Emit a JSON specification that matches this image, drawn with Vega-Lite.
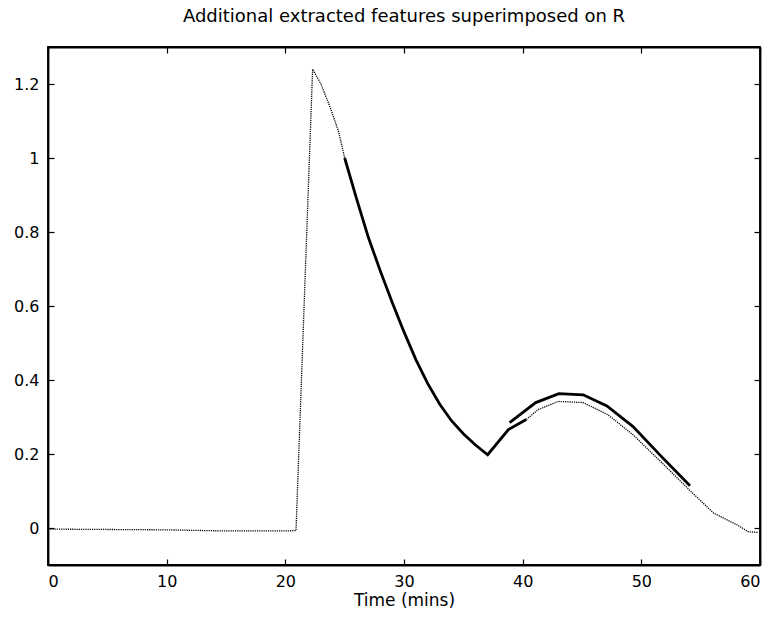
{
  "$schema": "https://vega.github.io/schema/vega-lite/v6.json",
  "autosize": "none",
  "padding": {"left": 48, "top": 47, "right": 10, "bottom": 52},
  "width": 712,
  "height": 518,
  "background": "white",
  "title": {"text": "Additional extracted features superimposed on R", "font": "DejaVu Sans", "fontSize": 18, "fontWeight": "normal", "color": "black", "offset": 20},
  "config": {
    "view": {"stroke": "black", "strokeWidth": 1.8},
    "axis": {"domainColor": "black", "tickColor": "black", "labelColor": "black", "titleColor": "black", "labelFont": "DejaVu Sans", "titleFont": "DejaVu Sans", "labelFontSize": 16, "titleFontSize": 17, "titleFontWeight": "normal", "grid": false, "tickSize": -6, "domainWidth": 1.8, "tickWidth": 1.2, "format": "~r"}
  },
  "data": {"values": [
    {"series": "R", "t": 0, "v": -0.003},
    {"series": "R", "t": 5, "v": -0.004},
    {"series": "R", "t": 10, "v": -0.005},
    {"series": "R", "t": 15, "v": -0.008},
    {"series": "R", "t": 20, "v": -0.008},
    {"series": "R", "t": 20.9, "v": -0.007},
    {"series": "R", "t": 22.3, "v": 1.24},
    {"series": "R", "t": 23, "v": 1.2},
    {"series": "R", "t": 23.8, "v": 1.135},
    {"series": "R", "t": 24.5, "v": 1.07},
    {"series": "R", "t": 25, "v": 1.0},
    {"series": "R", "t": 26, "v": 0.89},
    {"series": "R", "t": 27, "v": 0.785},
    {"series": "R", "t": 28, "v": 0.695},
    {"series": "R", "t": 29, "v": 0.61},
    {"series": "R", "t": 30, "v": 0.53},
    {"series": "R", "t": 31, "v": 0.455},
    {"series": "R", "t": 32, "v": 0.39},
    {"series": "R", "t": 33, "v": 0.335},
    {"series": "R", "t": 34, "v": 0.29},
    {"series": "R", "t": 35, "v": 0.255},
    {"series": "R", "t": 36, "v": 0.225},
    {"series": "R", "t": 37.05, "v": 0.198},
    {"series": "R", "t": 38.8, "v": 0.266},
    {"series": "R", "t": 40.3, "v": 0.293},
    {"series": "R", "t": 41.3, "v": 0.32},
    {"series": "R", "t": 43, "v": 0.342},
    {"series": "R", "t": 45.1, "v": 0.339},
    {"series": "R", "t": 47.2, "v": 0.306},
    {"series": "R", "t": 49.3, "v": 0.252},
    {"series": "R", "t": 51.9, "v": 0.171},
    {"series": "R", "t": 54.2, "v": 0.098},
    {"series": "R", "t": 56.1, "v": 0.04},
    {"series": "R", "t": 58.1, "v": 0.008},
    {"series": "R", "t": 59, "v": -0.01},
    {"series": "R", "t": 59.8, "v": -0.012},
    {"series": "A", "t": 25, "v": 1.0},
    {"series": "A", "t": 26, "v": 0.89},
    {"series": "A", "t": 27, "v": 0.785},
    {"series": "A", "t": 28, "v": 0.695},
    {"series": "A", "t": 29, "v": 0.61},
    {"series": "A", "t": 30, "v": 0.53},
    {"series": "A", "t": 31, "v": 0.455},
    {"series": "A", "t": 32, "v": 0.39},
    {"series": "A", "t": 33, "v": 0.335},
    {"series": "A", "t": 34, "v": 0.29},
    {"series": "A", "t": 35, "v": 0.255},
    {"series": "A", "t": 36, "v": 0.225},
    {"series": "A", "t": 37.05, "v": 0.198},
    {"series": "A", "t": 38.8, "v": 0.266},
    {"series": "A", "t": 40.3, "v": 0.293},
    {"series": "B", "t": 38.9, "v": 0.285},
    {"series": "B", "t": 41.1, "v": 0.339},
    {"series": "B", "t": 43.05, "v": 0.363},
    {"series": "B", "t": 45.1, "v": 0.36},
    {"series": "B", "t": 47.1, "v": 0.33},
    {"series": "B", "t": 49.3, "v": 0.274},
    {"series": "B", "t": 51.7, "v": 0.193},
    {"series": "B", "t": 54.1, "v": 0.114}
  ]},
  "layer": [
    {
      "transform": [{"filter": "datum.series === 'R'"}],
      "mark": {"type": "line", "color": "black", "strokeWidth": 1.3, "strokeDash": [1.2, 1]},
      "encoding": {
        "x": {"field": "t", "type": "quantitative", "scale": {"domain": [0, 60], "nice": false, "zero": false}, "axis": {"title": "Time (mins)", "values": [0, 10, 20, 30, 40, 50, 60], "labelPadding": 14, "titlePadding": 3}},
        "y": {"field": "v", "type": "quantitative", "scale": {"domain": [-0.1, 1.3], "nice": false, "zero": false}, "axis": {"title": null, "values": [0, 0.2, 0.4, 0.6, 0.8, 1, 1.2], "labelPadding": 15}}
      }
    },
    {
      "transform": [{"filter": "datum.series === 'A'"}],
      "mark": {"type": "line", "color": "black", "strokeWidth": 2.8},
      "encoding": {
        "x": {"field": "t", "type": "quantitative", "axis": null},
        "y": {"field": "v", "type": "quantitative", "axis": null}
      }
    },
    {
      "transform": [{"filter": "datum.series === 'B'"}],
      "mark": {"type": "line", "color": "black", "strokeWidth": 2.8},
      "encoding": {
        "x": {"field": "t", "type": "quantitative", "axis": null},
        "y": {"field": "v", "type": "quantitative", "axis": null}
      }
    },
    {
      "transform": [{"filter": "datum.series === 'B'"}],
      "mark": {"type": "point", "opacity": 0},
      "encoding": {
        "x": {"field": "t", "type": "quantitative", "axis": {"orient": "top", "labels": false, "title": null, "values": [0, 10, 20, 30, 40, 50, 60]}},
        "y": {"field": "v", "type": "quantitative", "axis": {"orient": "right", "labels": false, "title": null, "values": [0, 0.2, 0.4, 0.6, 0.8, 1, 1.2]}}
      }
    }
  ],
  "resolve": {"axis": {"x": "independent", "y": "independent"}}
}
